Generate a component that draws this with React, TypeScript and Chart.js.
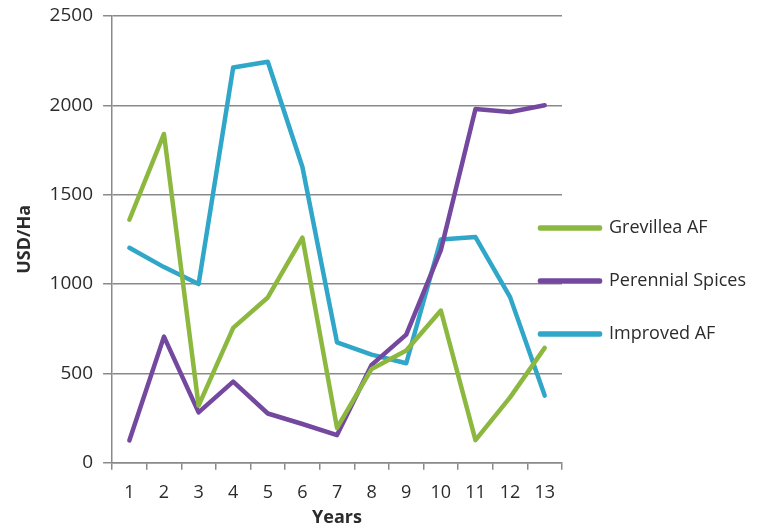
import React, { useEffect, useRef } from "react";
import { Chart, registerables } from "chart.js";

Chart.register(...registerables);

const years = ["1", "2", "3", "4", "5", "6", "7", "8", "9", "10", "11", "12", "13"];
const grevillea = [1360, 1840, 320, 755, 925, 1260, 195, 525, 628, 852, 127, 366, 643];
const perennial = [125, 706, 282, 454, 276, 217, 155, 548, 717, 1190, 1980, 1963, 2001];
const improved = [1203, 1095, 1000, 2212, 2244, 1655, 674, 605, 557, 1250, 1263, 927, 376];
const yTicks = [0, 500, 1000, 1500, 2000, 2500];

const GREEN = "#8cb83f";
const PURPLE = "#7548a0";
const BLUE = "#30a6c8";
const GRID = "#8a8a8a";
const TEXT = "#2b2b2b";
const FONT = "'Open Sans', 'DejaVu Sans', sans-serif";

const legendShift = {
  id: "legendShift",
  afterLayout(chart: any) {
    const lg = chart.legend;
    const ca = chart.chartArea;
    if (!lg || !ca) return;
    const w = lg.width;
    const h = lg.height;
    lg.left = ca.right - 57;
    lg.right = lg.left + w;
    lg.top = ca.top + 168;
    lg.bottom = lg.top + h;
  },
};

export default function App() {
  const ref = useRef<HTMLCanvasElement | null>(null);

  useEffect(() => {
    if (!ref.current) return;
    const mk = (label: string, data: number[], color: string) => ({
      label,
      data,
      borderColor: color,
      backgroundColor: color,
      borderWidth: 4.5,
      pointRadius: 0,
      pointHoverRadius: 0,
      tension: 0,
      borderCapStyle: "round" as const,
      borderJoinStyle: "round" as const,
    });
    const chart = new Chart(ref.current, {
      type: "line",
      data: {
        labels: years,
        datasets: [
          mk("Grevillea AF", grevillea, GREEN),
          mk("Perennial Spices", perennial, PURPLE),
          mk("Improved AF", improved, BLUE),
        ],
      },
      options: {
        animation: false,
        responsive: false,
        maintainAspectRatio: false,
        layout: { padding: { top: 16, right: 203, left: 14, bottom: 0 } },
        plugins: {
          tooltip: { enabled: false },
          legend: {
            position: "chartArea" as any,
            align: "start",
            labels: {
              boxWidth: 60,
              boxHeight: 1,
              padding: 35,
              color: TEXT,
              font: { family: FONT, size: 18 },
            },
          },
        },
        scales: {
          x: {
            offset: true,
            grid: {
              offset: true,
              drawOnChartArea: false,
              drawTicks: true,
              tickLength: 7,
              color: GRID,
              lineWidth: 1.5,
            },
            border: { color: GRID, width: 1.5 },
            ticks: {
              color: TEXT,
              font: { family: FONT, size: 18 },
              padding: 12,
              maxRotation: 0,
              autoSkip: false,
            },
            title: {
              display: true,
              text: "Years",
              color: TEXT,
              font: { family: FONT, size: 18, weight: "bold" },
              padding: { top: -8, bottom: 0 },
            },
          },
          y: {
            min: 0,
            max: 2500,
            afterBuildTicks: (axis: any) => {
              axis.ticks = yTicks.map((v) => ({ value: v }));
            },
            afterFit: (s: any) => {
              s.paddingTop = 0;
            },
            grid: {
              color: GRID,
              lineWidth: 1.5,
              tickLength: 9,
              drawTicks: true,
            },
            border: { color: GRID, width: 1.5 },
            ticks: {
              color: TEXT,
              font: { family: FONT, size: 19 },
              padding: 10,
              callback: (v: any) => String(v),
            },
            title: {
              display: true,
              text: "USD/Ha",
              color: TEXT,
              font: { family: FONT, size: 18, weight: "bold" },
              padding: { top: 0, bottom: 4 },
            },
          },
        },
      },
      plugins: [legendShift],
    });
    return () => chart.destroy();
  }, []);

  return (
    <div style={{ position: "fixed", left: 0, top: 0, width: 765, height: 529, background: "#fff" }}>
      <canvas ref={ref} width={765} height={529} style={{ width: 765, height: 529 }} />
    </div>
  );
}
